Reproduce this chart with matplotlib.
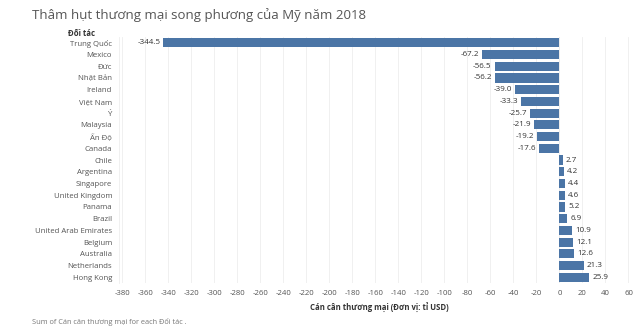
import matplotlib
matplotlib.use('Agg')
import matplotlib.pyplot as plt
import numpy as np

plt.rcParams['font.family'] = ['Open Sans', 'DejaVu Sans']

partners = ['Trung Quốc', 'Mexico', 'Đức', 'Nhật Bản', 'Ireland', 'Việt Nam', 'Ý',
            'Malaysia', 'Ấn Độ', 'Canada', 'Chile', 'Argentina', 'Singapore',
            'United Kingdom', 'Panama', 'Brazil', 'United Arab Emirates', 'Belgium',
            'Australia', 'Netherlands', 'Hong Kong']
balance = [-344.5, -67.2, -56.5, -56.2, -39.0, -33.3, -25.7, -21.9, -19.2, -17.6,
           2.7, 4.2, 4.4, 4.6, 5.2, 6.9, 10.9, 12.1, 12.6, 21.3, 25.9]
ticks = list(range(-380, 61, 20))

bar_color = '#4b75a6'
txt = '#555555'

fig = plt.figure(figsize=(6.4, 3.3), dpi=100, facecolor='white')
ax = fig.add_axes([0.186, 0.142, 0.814, 0.746])

y = np.arange(len(partners))
ax.barh(y, balance, height=0.78, color=bar_color, zorder=3)
ax.set_ylim(len(partners) - 0.5, -0.5)
ax.set_xlim(-383, 70)

for yi, v in zip(y, balance):
    if v < 0:
        ax.text(v - 2.5, yi, f'{v:.1f}', ha='right', va='center', fontsize=5.8, color='#333333')
    else:
        ax.text(v + 2.5, yi, f'{v:.1f}', ha='left', va='center', fontsize=5.8, color='#333333')

ax.set_yticks(y)
ax.set_yticklabels(partners, fontsize=5.6, color=txt)
ax.set_xticks(ticks)
ax.set_xticklabels([str(t) for t in ticks], fontsize=5.6, color=txt)
ax.tick_params(length=0, pad=5)
ax.xaxis.grid(True, color='#eeeeee', lw=0.6, zorder=0)
ax.axvline(0, color='#dddddd', lw=0.6, zorder=1)
for s in ax.spines.values():
    s.set_visible(False)
ax.spines['left'].set_visible(True)
ax.spines['left'].set_color('#eeeeee')
ax.spines['left'].set_linewidth(0.6)

ax.set_xlabel('Cán cân thương mại (Đơn vị: tỉ USD)', fontsize=5.6, color='#333333',
              fontweight='bold', labelpad=4)

fig.text(0.05, 0.955, 'Thâm hụt thương mại song phương của Mỹ năm 2018', fontsize=9.5,
         color='#555555', va='center', ha='left')
fig.text(0.149, 0.9, 'Đối tác', fontsize=5.6, color='#333333', fontweight='bold',
         ha='right', va='center')
fig.text(0.05, 0.025, 'Sum of Cán cân thương mại for each Đối tác .', fontsize=5.3,
         color='#777777', ha='left', va='center')

fig.savefig('out.png', dpi=100, facecolor='white')
